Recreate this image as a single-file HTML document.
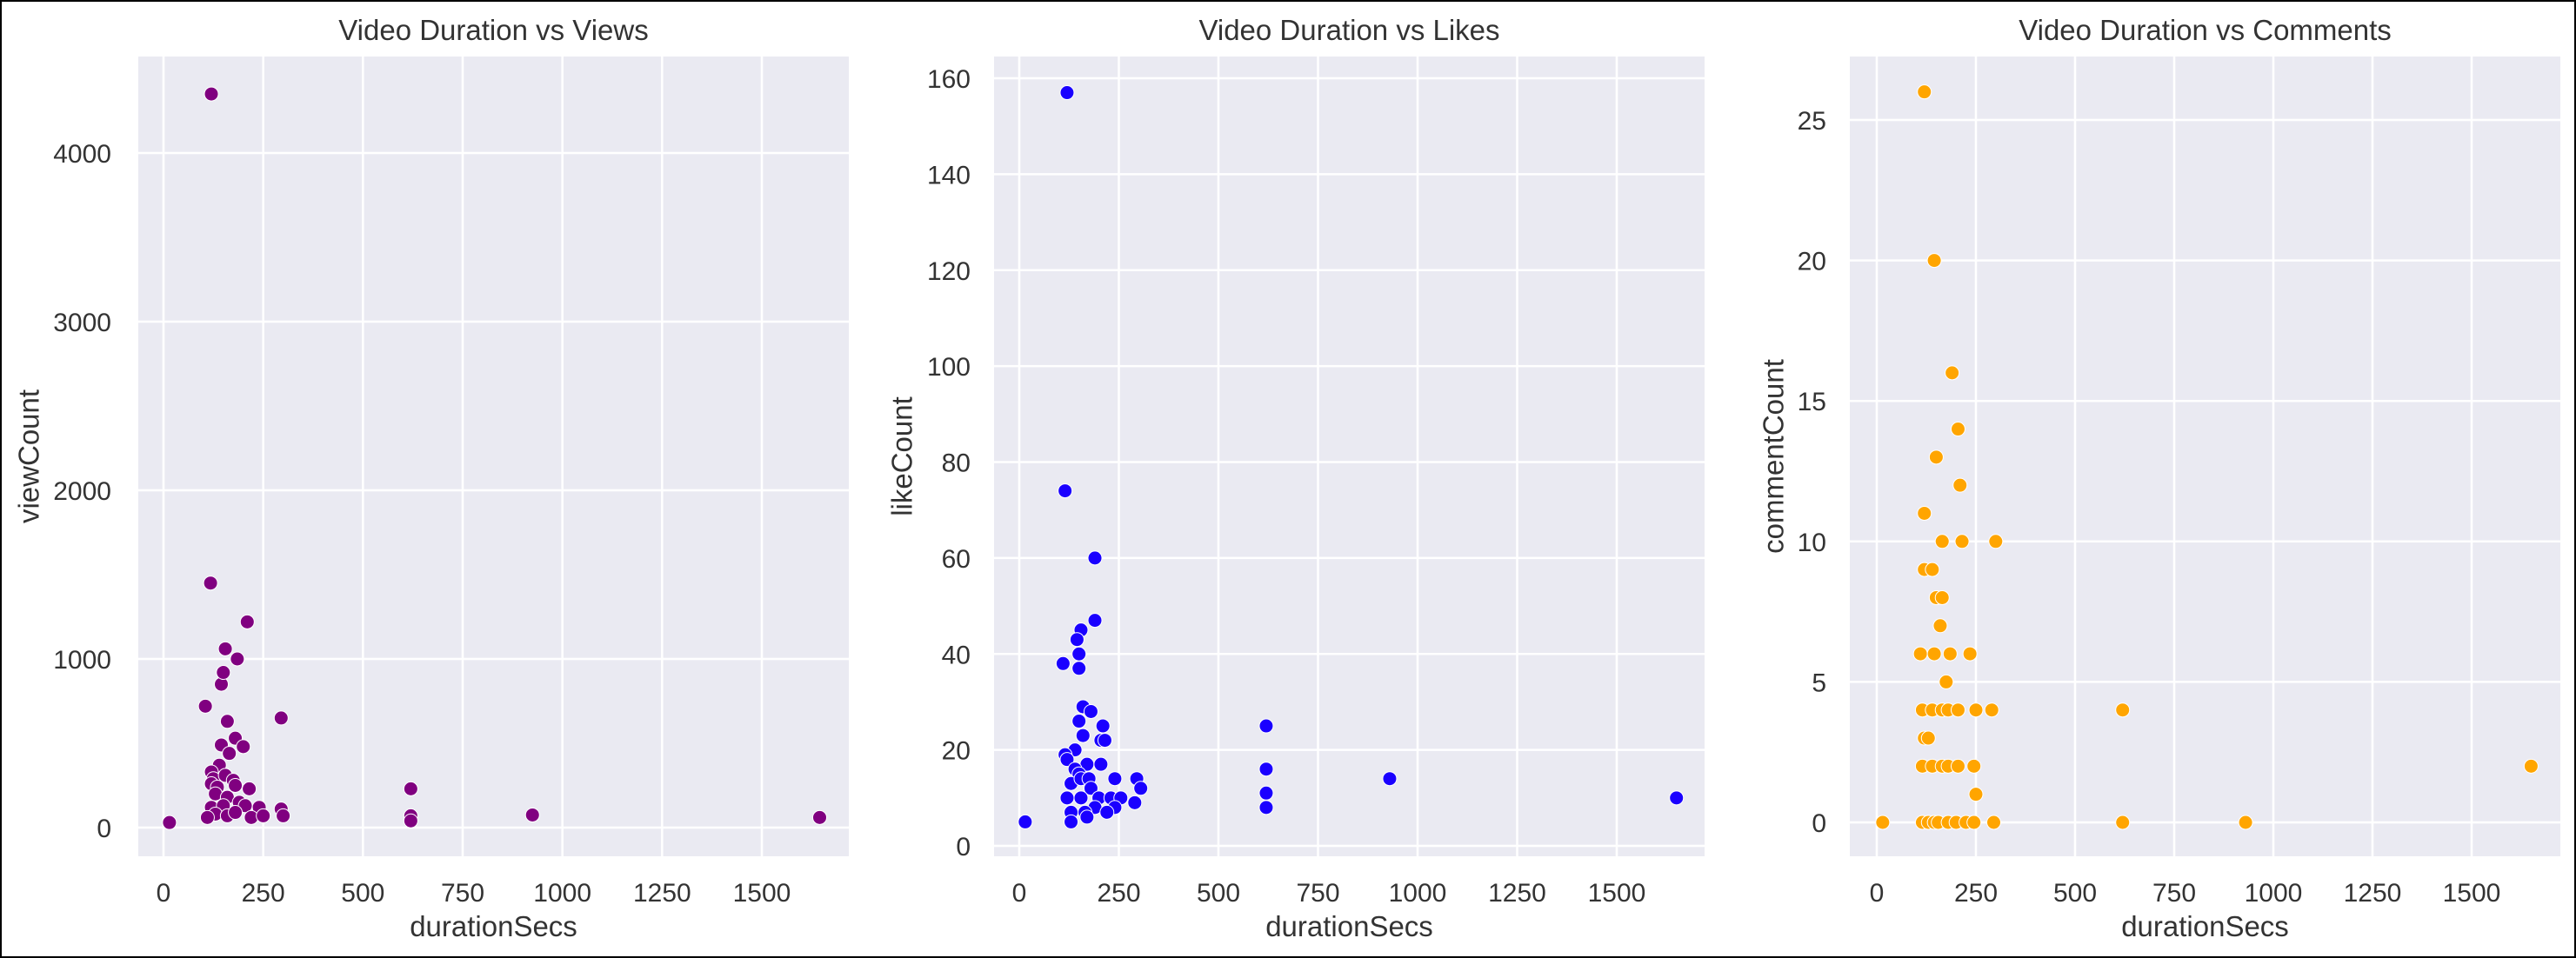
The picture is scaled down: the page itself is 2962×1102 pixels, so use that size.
<!DOCTYPE html>
<html><head><meta charset="utf-8">
<style>
html,body{margin:0;padding:0;background:#fff;}
body{width:2962px;height:1102px;overflow:hidden;}
svg{display:block;font-family:"Liberation Sans",Arial,sans-serif;}
</style></head>
<body>
<svg id="chart" width="2962" height="1102" viewBox="0 0 2962 1102" xmlns="http://www.w3.org/2000/svg">
<rect x="0" y="0" width="2962" height="1102" fill="#fff" stroke="#000" stroke-width="4"/>
</svg>
<script>
const xTicks = [0,250,500,750,1000,1250,1500];
const viewTicks = [0,1000,2000,3000,4000];
const likeTicks = [0,20,40,60,80,100,120,140,160];
const commentTicks = [0,5,10,15,20,25];

const viewDur = [15,120,118,105,145,150,155,185,210,160,145,165,180,200,295,140,120,125,155,175,120,135,180,215,130,160,190,120,150,205,240,295,130,160,180,220,250,300,110,620,620,620,925,1645];
const viewVals = [30,4350,1450,720,850,920,1060,1000,1220,630,490,440,530,480,650,370,330,290,310,280,260,240,250,230,200,180,150,120,130,130,120,110,80,70,90,60,70,70,60,230,70,40,75,60];

const likeDur = [15,120,115,190,190,155,145,150,110,150,160,180,150,210,160,205,215,140,115,120,170,205,140,150,130,155,175,240,295,180,305,120,155,200,230,255,190,290,240,130,165,220,130,170,620,620,620,620,930,1650];
const likeVals = [5,157,74,60,47,45,43,40,38,37,29,28,26,25,23,22,22,20,19,18,17,17,16,15,13,14,14,14,14,12,12,10,10,10,10,10,8,9,8,7,7,7,5,6,25,16,11,8,14,10];

const commentDur = [15,120,145,190,205,150,210,120,165,215,300,120,140,150,165,160,110,145,185,235,175,115,140,165,180,205,250,290,120,130,115,140,165,180,205,245,250,115,130,145,155,180,200,225,245,295,620,620,930,1650];
const commentVals = [0,26,20,16,14,13,12,11,10,10,10,9,9,8,8,7,6,6,6,6,5,4,4,4,4,4,4,4,3,3,2,2,2,2,2,2,1,0,0,0,0,0,0,0,0,0,4,0,0,2];

const NS = "http://www.w3.org/2000/svg";
const svgEl = document.getElementById('chart');
function mk(tag, attrs, parent){
  const e = document.createElementNS(NS, tag);
  for (const k in attrs) e.setAttribute(k, attrs[k]);
  (parent||svgEl).appendChild(e);
  return e;
}

const panels = [
  {key:'views', title:'Video Duration vs Views', ylabel:'viewCount', color:'#800080',
   left:159, right:976, x0px:188, x1500px:876, y0px:952, yTop:4000, yTopPx:176,
   yticks:viewTicks, xs:viewDur, ys:viewVals, ylabX:33, tickRight:128},
  {key:'likes', title:'Video Duration vs Likes', ylabel:'likeCount', color:'#1a00ff',
   left:1143, right:1960, x0px:1172, x1500px:1859, y0px:973, yTop:160, yTopPx:90,
   yticks:likeTicks, xs:likeDur, ys:likeVals, ylabX:1037, tickRight:1116},
  {key:'comments', title:'Video Duration vs Comments', ylabel:'commentCount', color:'#ffa500',
   left:2127, right:2944, x0px:2158, x1500px:2842, y0px:946, yTop:25, yTopPx:138,
   yticks:commentTicks, xs:commentDur, ys:commentVals, ylabX:2039, tickRight:2100}
];
const plotTop = 65, plotBottom = 985;

panels.forEach(p => {
  const g = mk('g', {});
  
  
  const xs = v => p.x0px + (p.x1500px - p.x0px) * v / 1500;
  const ys = v => p.y0px - (p.y0px - p.yTopPx) * v / p.yTop;

  const bg = mk('rect', {x:p.left, y:plotTop, width:p.right-p.left, height:plotBottom-plotTop, fill:'#eaeaf2'}, g);
  
  

  xTicks.forEach(t => {
    const l = mk('line', {x1:xs(t), x2:xs(t), y1:plotTop, y2:plotBottom, stroke:'#fff', 'stroke-width':2.5}, g);
    
    
    const tx = mk('text', {x:xs(t), y:1037, 'text-anchor':'middle', 'font-size':30, fill:'#333'}, g);
    tx.textContent = t;
    
    
  });
  p.yticks.forEach(t => {
    const l = mk('line', {x1:p.left, x2:p.right, y1:ys(t), y2:ys(t), stroke:'#fff', 'stroke-width':2.5}, g);
    
    
    const tx = mk('text', {x:p.tickRight, y:ys(t)+11, 'text-anchor':'end', 'font-size':30, fill:'#333'}, g);
    tx.textContent = t;
    
    
  });

  p.xs.forEach((d, i) => {
    const c = mk('circle', {cx:xs(d), cy:ys(p.ys[i]), r:8, fill:p.color, stroke:'#fff', 'stroke-width':1}, g);
    
    
  });

  const title = mk('text', {x:(p.left+p.right)/2, y:46, 'text-anchor':'middle', 'font-size':33, fill:'#333'}, g);
  title.textContent = p.title;
  
  

  const xl = mk('text', {x:(p.left+p.right)/2, y:1077, 'text-anchor':'middle', 'font-size':33, fill:'#333'}, g);
  xl.textContent = 'durationSecs';
  
  

  const cy = 525;
  const yl = mk('text', {x:p.ylabX, y:cy, 'text-anchor':'middle', 'font-size':33, fill:'#333', transform:'rotate(-90 '+(p.ylabX)+' '+cy+')', 'dominant-baseline':'central'}, g);
  yl.textContent = p.ylabel;
  
  
});
</script>
</body></html>
